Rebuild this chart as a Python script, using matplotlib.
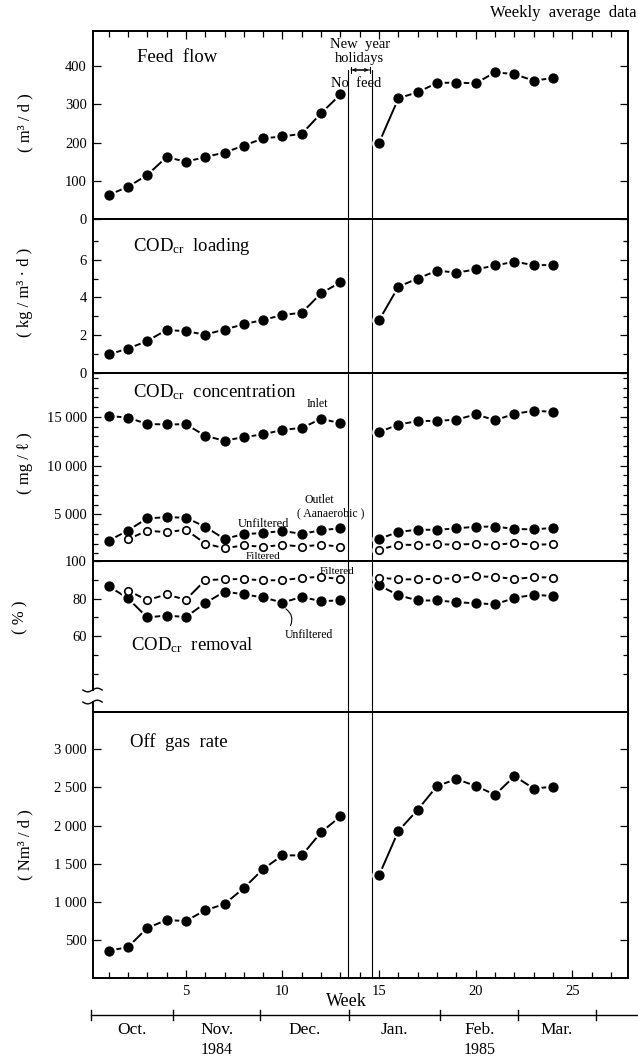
import matplotlib
matplotlib.use('Agg')
import matplotlib.pyplot as plt
import numpy as np
from matplotlib.ticker import FuncFormatter

plt.rcParams['font.family'] = ['Liberation Serif', 'DejaVu Serif']
plt.rcParams['mathtext.fontset'] = 'custom'
plt.rcParams['mathtext.rm'] = 'Liberation Serif'
plt.rcParams['mathtext.it'] = 'Liberation Serif:italic'

# ---- data ----
weeks_a = [1, 2, 3, 4, 5, 6, 7, 8, 9, 10, 11, 12, 13]
weeks_a2 = [2, 3, 4, 5, 6, 7, 8, 9, 10, 11, 12, 13]   # filtered series start at week 2
weeks_b = [15, 16, 17, 18, 19, 20, 21, 22, 23, 24]

feed_a = [63, 84, 115, 162, 150, 162, 174, 192, 211, 216, 223, 277, 326]
feed_b = [200, 316, 332, 356, 357, 355, 384, 379, 362, 369]

load_a = [0.98, 1.29, 1.69, 2.28, 2.21, 2.03, 2.30, 2.58, 2.81, 3.07, 3.19, 4.22, 4.80]
load_b = [2.80, 4.57, 5.00, 5.42, 5.31, 5.48, 5.69, 5.89, 5.71, 5.71]

inlet_a = [15080, 14930, 14260, 14220, 14240, 13060, 12540, 12930, 13200, 13670, 13860, 14800, 14340]
inlet_b = [13440, 14210, 14570, 14590, 14710, 15250, 14660, 15300, 15630, 15510]
out_unf_a = [2280, 3330, 4580, 4700, 4650, 3720, 2470, 2970, 3070, 3300, 2980, 3370, 3560]
out_unf_b = [2480, 3190, 3420, 3400, 3560, 3720, 3740, 3490, 3450, 3600]
out_fil_a = [2430, 3320, 3160, 3420, 2000, 1510, 1810, 1660, 1860, 1690, 1870, 1680]
out_fil_b = [1360, 1890, 1840, 1930, 1880, 1970, 1860, 2050, 1870, 1930]

rem_unf_a = [86.6, 80.2, 70.0, 71.0, 70.2, 77.6, 83.7, 82.3, 80.6, 77.9, 80.9, 78.6, 79.1]
rem_unf_b = [87.0, 81.8, 79.0, 79.0, 78.1, 77.5, 77.0, 80.3, 82.1, 81.3]
rem_fil_a = [84.3, 79.2, 82.2, 79.4, 89.8, 90.3, 90.4, 89.7, 89.8, 91.0, 91.6, 90.3]
rem_fil_b = [91.1, 90.3, 90.2, 90.5, 90.8, 91.8, 91.6, 90.4, 91.4, 91.2]

gas_a = [358, 404, 656, 760, 748, 888, 970, 1180, 1430, 1610, 1608, 1913, 2120]
gas_b = [1350, 1930, 2209, 2520, 2609, 2520, 2404, 2648, 2486, 2510]

holiday = [13.4, 14.65]          # no-feed period (weeks)
month_edges = [0.1, 4.35, 8.85, 13.45, 18.15, 22.2, 26.2]
months = ['Oct.', 'Nov.', 'Dec.', 'Jan.', 'Feb.', 'Mar.']
years = {1: '1984', 4: '1985'}

# ---- layout ----
fig = plt.figure(figsize=(6.38, 10.62), dpi=100)
H = 1062.0
L, R = 92.5 / 638, 627.5 / 638
XLIM = (0.17, 27.85)
TICK_FS = 10.5
TITLE_FS = 13.5
NOTE_FS = 8.5


def rect(top, bot):
    return [L, 1 - bot / H, R - L, (bot - top) / H]


ax1 = fig.add_axes(rect(31, 219))
ax2 = fig.add_axes(rect(219, 373))
ax3 = fig.add_axes(rect(373, 561))
ax4 = fig.add_axes(rect(561, 712))
ax5 = fig.add_axes(rect(712, 978))
axes = [ax1, ax2, ax3, ax4, ax5]

for ax in axes:
    ax.set_xlim(*XLIM)
    for s in ax.spines.values():
        s.set_linewidth(1.4)
    ax.tick_params(axis='y', which='both', direction='in', left=True, right=True,
                   labelsize=TICK_FS, width=0.9, pad=4)
    ax.tick_params(axis='y', which='major', length=6)
    ax.tick_params(axis='y', which='minor', length=3.5)
    ax.tick_params(axis='x', which='both', bottom=False, top=False,
                   labelbottom=False, labeltop=False)
    ax.set_facecolor('none')


def series(ax, x, y, filled=True):
    ax.plot(x, y, color='k', lw=1.4, zorder=2)
    ax.plot(x, y, ls='none', marker='o', ms=9.5, mfc='white', mec='white', zorder=3)
    if filled:
        ax.plot(x, y, ls='none', marker='o', ms=6.4, mfc='k', mec='k', zorder=4)
    else:
        ax.plot(x, y, ls='none', marker='o', ms=5.4, mfc='white', mec='k', mew=1.2, zorder=4)


# Feed flow
ax1.set_ylim(0, 492)
ax1.set_yticks([0, 100, 200, 300, 400])
series(ax1, weeks_a, feed_a)
series(ax1, weeks_b, feed_b)
ax1.set_xticks([5, 10, 15, 20, 25])
ax1.set_xticks(range(1, 28), minor=True)
ax1.tick_params(axis='x', which='both', top=True, direction='in', width=0.9)
ax1.tick_params(axis='x', which='major', length=6)
ax1.tick_params(axis='x', which='minor', length=4)
ax1.text(0.084, 0.86, 'Feed  flow', transform=ax1.transAxes, fontsize=TITLE_FS, va='center')
for h in holiday:
    ax1.axvline(h, ymax=0.795, color='k', lw=0.8)
ax1.annotate('', xy=(holiday[0], 390), xytext=(holiday[1], 390),
             arrowprops=dict(arrowstyle='|-|', lw=0.8, mutation_scale=2))
ax1.annotate('', xy=(holiday[0] + 0.05, 390), xytext=(holiday[1] - 0.05, 390),
             arrowprops=dict(arrowstyle='<->', lw=0.8, mutation_scale=5))
ax1.text(14.0, 456, 'New  year', ha='center', va='center', fontsize=10.5)
ax1.text(14.0, 419, 'holidays', ha='center', va='center', fontsize=10.5)
ax1.text(13.8, 354, 'No  feed', ha='center', va='center', fontsize=10.5)

# CODcr loading
ax2.set_ylim(0, 8.15)
ax2.set_yticks([0, 2, 4, 6])
ax2.set_yticks([1, 3, 5, 7], minor=True)
series(ax2, weeks_a, load_a)
series(ax2, weeks_b, load_b)
ax2.text(0.076, 0.82, r'COD$_{\mathrm{cr}}$  loading', transform=ax2.transAxes,
         fontsize=TITLE_FS, va='center')

# CODcr concentration
thous = FuncFormatter(lambda v, p: f'{int(v):,}'.replace(',', ' '))
ax3.set_ylim(205, 19500)
ax3.set_yticks([5000, 10000, 15000])
ax3.set_yticks([v for v in range(1000, 19001, 1000) if v % 5000], minor=True)
ax3.yaxis.set_major_formatter(thous)
series(ax3, weeks_a, inlet_a)
series(ax3, weeks_b, inlet_b)
series(ax3, weeks_a, out_unf_a)
series(ax3, weeks_b, out_unf_b)
series(ax3, weeks_a2, out_fil_a, filled=False)
series(ax3, weeks_b, out_fil_b, filled=False)
ax3.text(0.076, 0.9, r'COD$_{\mathrm{cr}}$  concentration', transform=ax3.transAxes,
         fontsize=TITLE_FS, va='center')
ax3.text(11.8, 16300, 'Inlet', ha='center', va='center', fontsize=NOTE_FS)
ax3.text(11.9, 6450, 'Outlet', ha='center', va='center', fontsize=NOTE_FS)
ax3.text(12.5, 5050, '( Aanaerobic )', ha='center', va='center', fontsize=NOTE_FS)
ax3.text(9.0, 4050, 'Unfiltered', ha='center', va='center', fontsize=NOTE_FS + 0.5)
ax3.text(9.0, 620, 'Filtered', ha='center', va='center', fontsize=NOTE_FS - 0.5)

# CODcr removal
ax4.set_ylim(19.7, 100)
ax4.set_yticks([60, 80, 100])
ax4.set_yticks([40, 50, 70, 90], minor=True)
series(ax4, weeks_a, rem_unf_a)
series(ax4, weeks_b, rem_unf_b)
series(ax4, weeks_a2, rem_fil_a, filled=False)
series(ax4, weeks_b, rem_fil_b, filled=False)
ax4.text(0.072, 0.44, r'COD$_{\mathrm{cr}}$  removal', transform=ax4.transAxes,
         fontsize=TITLE_FS, va='center')
ax4.text(12.8, 94.5, 'Filtered', ha='center', va='center', fontsize=NOTE_FS - 0.5)
ax4.text(11.35, 60.8, 'Unfiltered', ha='center', va='center', fontsize=NOTE_FS)
ax4.annotate('', xy=(10.05, 75.3), xytext=(10.35, 64.3),
             arrowprops=dict(arrowstyle='-', lw=0.8,
                             connectionstyle='arc3,rad=0.5'))
# broken left spine
ax4.spines['left'].set_visible(False)
b_hi, b_lo = (31.4 - 19.7) / 80.3, (25.0 - 19.7) / 80.3
ax4.plot([0, 0], [b_hi, 1], transform=ax4.transAxes, color='k', lw=1.4, clip_on=False)
ax4.plot([0, 0], [0, b_lo], transform=ax4.transAxes, color='k', lw=1.4, clip_on=False)
tx = np.linspace(-0.018, 0.018, 30)
for yb in (b_hi, b_lo):
    ax4.plot(tx, yb + 0.012 * np.sin(tx / 0.018 * np.pi), transform=ax4.transAxes,
             color='k', lw=1.0, clip_on=False)

# Off gas rate
ax5.set_ylim(0, 3490)
ax5.set_yticks([500, 1000, 1500, 2000, 2500, 3000])
ax5.yaxis.set_major_formatter(thous)
series(ax5, weeks_a, gas_a)
series(ax5, weeks_b, gas_b)
ax5.text(0.07, 0.887, 'Off  gas  rate', transform=ax5.transAxes, fontsize=TITLE_FS,
         va='center')
ax5.set_xticks([5, 10, 15, 20, 25])
ax5.set_xticks(range(1, 28), minor=True)
ax5.tick_params(axis='x', which='both', bottom=True, labelbottom=True, direction='in',
                width=0.9, labelsize=TICK_FS, pad=5)
ax5.tick_params(axis='x', which='major', length=6)
ax5.tick_params(axis='x', which='minor', length=4)
ax5.text(13.3, -0.088, 'Week', transform=ax5.get_xaxis_transform(), ha='center',
         va='center', fontsize=13)

for ax in [ax2, ax3, ax4, ax5]:
    for h in holiday:
        ax.axvline(h, color='k', lw=0.8)

# unit labels
UNIT_FS = 12
fig.text(25 / 638, 1 - 123 / H, '( m³ / d )', rotation=90, ha='center', va='center', fontsize=UNIT_FS)
fig.text(25 / 638, 1 - 292 / H, '( kg / m³ · d )', rotation=90, ha='center', va='center', fontsize=UNIT_FS)
fig.text(25 / 638, 1 - 463 / H, '( mg / ℓ )', rotation=90, ha='center', va='center', fontsize=UNIT_FS)
fig.text(20 / 638, 1 - 617 / H, '( % )', rotation=90, ha='center', va='center', fontsize=UNIT_FS)
fig.text(25 / 638, 1 - 845 / H, '( Nm³ / d )', rotation=90, ha='center', va='center', fontsize=UNIT_FS)
fig.text(636 / 638, 1 - 13 / H, 'Weekly  average  data', ha='right', va='center', fontsize=12)

# month bar
axm = fig.add_axes([L, 0, R - L, (H - 1000) / H])
axm.set_xlim(*XLIM)
axm.set_ylim(1062, 1000)
axm.axis('off')
axm.plot([month_edges[0], 28.6], [1015, 1015], color='k', lw=1.0, clip_on=False)
for e in month_edges:
    axm.plot([e, e], [1010, 1020], color='k', lw=1.0, clip_on=False)
for i, m in enumerate(months):
    c = (month_edges[i] + month_edges[i + 1]) / 2
    axm.text(c, 1030, m, ha='center', va='center', fontsize=12.5)
    if i in years:
        axm.text(c, 1050, years[i], ha='center', va='center', fontsize=11.5)

fig.savefig('out.png', dpi=100)
